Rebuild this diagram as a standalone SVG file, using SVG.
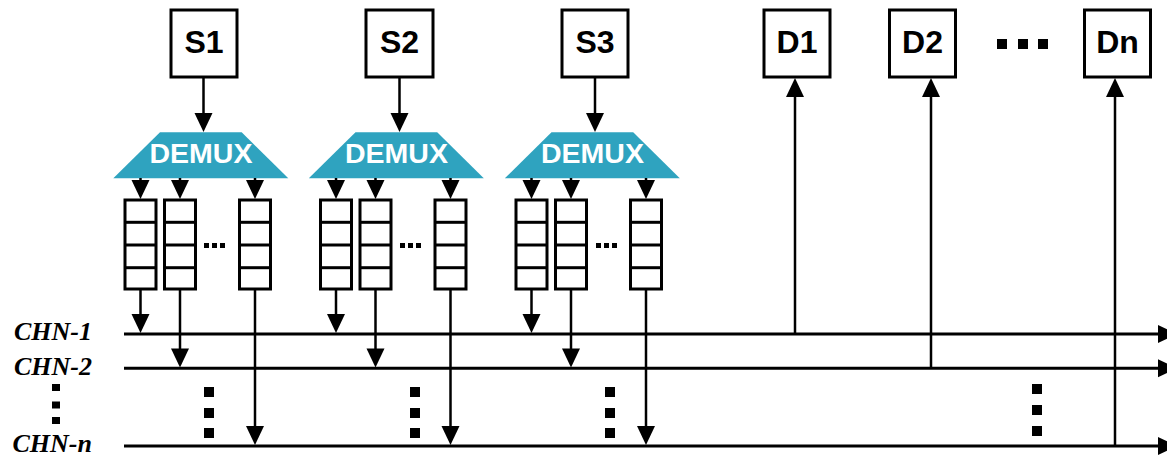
<svg xmlns="http://www.w3.org/2000/svg" width="1167" height="457" viewBox="0 0 1167 457">
<style>
.box{fill:#fff;stroke:#000;stroke-width:3}
.lbl{font-family:"Liberation Sans",Arial,sans-serif;font-weight:bold;font-size:32px;text-anchor:middle;fill:#000}
.dmx{fill:#2FA3BF}
.dtx{font-family:"Liberation Sans",Arial,sans-serif;font-weight:bold;font-size:28.5px;text-anchor:middle;fill:#fff}
.q{fill:#fff;stroke:#000;stroke-width:3}
.ql{stroke:#000;stroke-width:3}
.ar{stroke:#000;stroke-width:2.5;fill:none;marker-end:url(#ah)}
.ch{stroke:#000;stroke-width:3;fill:none;marker-end:url(#ah)}
.chn{font-family:"Liberation Serif","Times New Roman",serif;font-weight:bold;font-style:italic;font-size:26px;text-anchor:end;fill:#000}
.dot{fill:#000}
</style>
<defs>
<marker id="ah" markerUnits="userSpaceOnUse" markerWidth="19" markerHeight="19" refX="14" refY="9" orient="auto" overflow="visible">
<path d="M0,0 L19,9 L0,18 z" fill="#000"/>
</marker>
<g id="queue">
<rect class="q" x="0" y="200" width="31" height="89"/>
<line class="ql" x1="0" y1="222.3" x2="31" y2="222.3"/>
<line class="ql" x1="0" y1="245" x2="31" y2="245"/>
<line class="ql" x1="0" y1="267.7" x2="31" y2="267.7"/>
</g>
</defs>

<g id="S1"><rect class="box" x="171" y="10" width="66" height="67"/><text class="lbl" x="204" y="53">S1</text></g>
<g id="S2"><rect class="box" x="366" y="10" width="67" height="67"/><text class="lbl" x="399.5" y="53">S2</text></g>
<g id="S3"><rect class="box" x="562" y="10" width="66" height="67"/><text class="lbl" x="595" y="53">S3</text></g>
<g id="D1"><rect class="box" x="764" y="10" width="66" height="67"/><text class="lbl" x="797" y="53">D1</text></g>
<g id="D2"><rect class="box" x="889.5" y="10" width="66" height="67"/><text class="lbl" x="922.5" y="53">D2</text></g>
<g id="Dn"><rect class="box" x="1084.5" y="10" width="66" height="67"/><text class="lbl" x="1117.5" y="53">Dn</text></g>
<g id="dotsD"><rect class="dot" x="997" y="39" width="10" height="10"/><rect class="dot" x="1018" y="39" width="10" height="10"/><rect class="dot" x="1038" y="39" width="10" height="10"/></g>

<g id="DEMUX1"><polygon class="dmx" points="160,132.3 241.7,132.3 288.3,178.3 113.3,178.3"/><text class="dtx" x="201" y="163">DEMUX</text></g>
<g id="DEMUX2"><polygon class="dmx" points="355.5,132.3 437.2,132.3 483.8,178.3 308.8,178.3"/><text class="dtx" x="396.5" y="163">DEMUX</text></g>
<g id="DEMUX3"><polygon class="dmx" points="551.5,132.3 633.2,132.3 679.8,178.3 504.8,178.3"/><text class="dtx" x="592.5" y="163">DEMUX</text></g>

<g id="queues1"><use href="#queue" x="125"/><use href="#queue" x="164.5"/><use href="#queue" x="239.5"/>
<rect class="dot" x="204" y="243" width="5" height="5"/><rect class="dot" x="212" y="243" width="5" height="5"/><rect class="dot" x="220" y="243" width="5" height="5"/></g>
<g id="queues2"><use href="#queue" x="320.5"/><use href="#queue" x="360"/><use href="#queue" x="435"/>
<rect class="dot" x="400" y="243" width="5" height="5"/><rect class="dot" x="408" y="243" width="5" height="5"/><rect class="dot" x="416" y="243" width="5" height="5"/></g>
<g id="queues3"><use href="#queue" x="516"/><use href="#queue" x="555.5"/><use href="#queue" x="630.5"/>
<rect class="dot" x="596" y="243" width="5" height="5"/><rect class="dot" x="604" y="243" width="5" height="5"/><rect class="dot" x="612" y="243" width="5" height="5"/></g>

<g id="labels">
<text class="chn" x="92" y="340">CHN-1</text>
<text class="chn" x="92" y="375">CHN-2</text>
<text class="chn" x="92" y="452">CHN-n</text>
<rect class="dot" x="52" y="384" width="8" height="7"/><rect class="dot" x="52" y="401.5" width="8" height="7"/><rect class="dot" x="52" y="417" width="8" height="7"/>
</g>
<g id="vdots">
<rect class="dot" x="204" y="387" width="10" height="10"/><rect class="dot" x="204" y="408" width="10" height="10"/><rect class="dot" x="204" y="428" width="10" height="10"/>
<rect class="dot" x="410" y="387" width="10" height="10"/><rect class="dot" x="410" y="408" width="10" height="10"/><rect class="dot" x="410" y="428" width="10" height="10"/>
<rect class="dot" x="605" y="387" width="10" height="10"/><rect class="dot" x="605" y="408" width="10" height="10"/><rect class="dot" x="605" y="428" width="10" height="10"/>
<rect class="dot" x="1032" y="384" width="10" height="10"/><rect class="dot" x="1032" y="405" width="10" height="10"/><rect class="dot" x="1032" y="426" width="10" height="10"/>
</g>

<g id="connectors">
<line class="ch" x1="124" y1="334" x2="1172" y2="334"/>
<line class="ch" x1="124" y1="368.3" x2="1172" y2="368.3"/>
<line class="ch" x1="124" y1="446" x2="1172" y2="446"/>

<line class="ar" x1="203.5" y1="77" x2="203.5" y2="127"/>
<line class="ar" x1="399.5" y1="77" x2="399.5" y2="127"/>
<line class="ar" x1="595" y1="77" x2="595" y2="127"/>

<line class="ar" x1="140.5" y1="178" x2="140.5" y2="194"/>
<line class="ar" x1="180" y1="178" x2="180" y2="194"/>
<line class="ar" x1="255" y1="178" x2="255" y2="194"/>
<line class="ar" x1="336" y1="178" x2="336" y2="194"/>
<line class="ar" x1="375.5" y1="178" x2="375.5" y2="194"/>
<line class="ar" x1="450.5" y1="178" x2="450.5" y2="194"/>
<line class="ar" x1="531.5" y1="178" x2="531.5" y2="194"/>
<line class="ar" x1="571" y1="178" x2="571" y2="194"/>
<line class="ar" x1="646" y1="178" x2="646" y2="194"/>

<line class="ar" x1="140.5" y1="289" x2="140.5" y2="328"/>
<line class="ar" x1="180" y1="289" x2="180" y2="362.5"/>
<line class="ar" x1="255" y1="289" x2="255" y2="440"/>
<line class="ar" x1="336" y1="289" x2="336" y2="328"/>
<line class="ar" x1="375.5" y1="289" x2="375.5" y2="362.5"/>
<line class="ar" x1="450.5" y1="289" x2="450.5" y2="440"/>
<line class="ar" x1="531.5" y1="289" x2="531.5" y2="328"/>
<line class="ar" x1="571" y1="289" x2="571" y2="362.5"/>
<line class="ar" x1="646" y1="289" x2="646" y2="440"/>

<line class="ar" x1="795" y1="334" x2="795" y2="83"/>
<line class="ar" x1="931" y1="368.3" x2="931" y2="83"/>
<line class="ar" x1="1115" y1="446" x2="1115" y2="83"/>
</g>
</svg>
